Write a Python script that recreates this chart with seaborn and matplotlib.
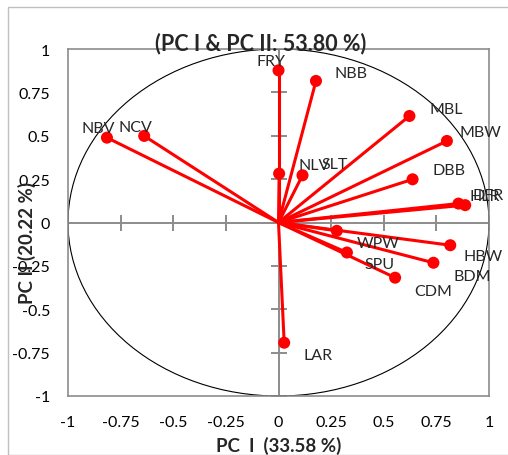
import matplotlib
matplotlib.use('Agg')
import matplotlib.pyplot as plt
import seaborn as sns
import pandas as pd
import numpy as np
from matplotlib.patches import Circle, Rectangle

# loadings
traits = ['FRY', 'NBB', 'MBL', 'MBW', 'NBV', 'NCV', 'NLV', 'SLT', 'DBB',
          'HLR', 'DFR', 'WPW', 'HBW', 'BDM', 'SPU', 'CDM', 'LAR']
pc1 = [0.00, 0.178, 0.622, 0.80, -0.815, -0.638, 0.003, 0.114, 0.637,
       0.855, 0.887, 0.277, 0.816, 0.736, 0.325, 0.554, 0.027]
pc2 = [0.877, 0.816, 0.614, 0.47, 0.489, 0.499, 0.282, 0.272, 0.249,
       0.109, 0.10, -0.048, -0.131, -0.232, -0.173, -0.318, -0.693]
ticks = [-1, -0.75, -0.5, -0.25, 0, 0.25, 0.5, 0.75, 1]
tick_labels = ['-1', '-0.75', '-0.5', '-0.25', '0', '0.25', '0.5', '0.75', '1']

# label offsets in pixels (label placement only)
label_off = {'FRY': (-8, 9), 'NBB': (35, 8), 'MBL': (37, 7), 'MBW': (34, 9),
             'NBV': (-9, 10), 'NCV': (-9, 9), 'NLV': (35, 9), 'SLT': (32, 11),
             'DBB': (36, 9), 'HLR': (26, 8), 'DFR': (23, 10), 'WPW': (41, -12),
             'HBW': (33, -11), 'BDM': (39, -13), 'SPU': (33, -11), 'CDM': (38, -13),
             'LAR': (34, -12)}

df = pd.DataFrame({'trait': traits, 'pc1': pc1, 'pc2': pc2})

sns.set_style('white')
plt.rcParams['font.family'] = ['Lato', 'DejaVu Sans']

fig = plt.figure(figsize=(5.08, 4.56), dpi=100)
fig.patches.append(Rectangle((8 / 508, 0), 1, 1 - 8 / 456, transform=fig.transFigure,
                             fill=False, edgecolor='#bfbfbf', linewidth=1))
ax = fig.add_axes([68 / 508, 1 - 397 / 456, 421 / 508, 347 / 456])

gray = '#8c8c8c'
ax.axhline(0, color=gray, lw=1.4, zorder=1)
ax.axvline(0, color=gray, lw=1.4, zorder=1)
ax.plot(ticks, [0] * len(ticks), ls='none', marker='|', ms=12, mew=1.4, color=gray, zorder=1)
ax.plot([0] * len(ticks), ticks, ls='none', marker='_', ms=12, mew=1.4, color=gray, zorder=1)

ax.add_patch(Circle((0, 0), 1, fill=False, edgecolor='black', lw=0.8, zorder=2))

for _, r in df.iterrows():
    ax.plot([0, r.pc1], [0, r.pc2], color='#ff0000', lw=2.2, zorder=3)
sns.scatterplot(data=df, x='pc1', y='pc2', ax=ax, color='#ff0000', s=75,
                edgecolor='none', zorder=4, legend=False)

for _, r in df.iterrows():
    dx, dy = label_off[r.trait]
    ax.annotate(r.trait, (r.pc1, r.pc2), xytext=(dx, dy), textcoords='offset pixels',
                ha='center', va='center', fontsize=11.5, color='#262626', zorder=5)

ax.set_xlim(-1, 1)
ax.set_ylim(-1, 1)
ax.set_xticks(ticks)
ax.set_xticklabels(tick_labels)
ax.set_yticks(ticks)
ax.set_yticklabels(tick_labels)
ax.tick_params(length=0, labelsize=11.5, labelcolor='black')
ax.tick_params(axis='x', pad=14)
ax.tick_params(axis='y', pad=13)
for s in ax.spines.values():
    s.set_color(gray)
    s.set_linewidth(1.2)
ax.set_xlabel('')
ax.set_ylabel('')

fig.text(279 / 508, 1 - 446 / 456, 'PC  I  (33.58 %)', ha='center', va='center',
         fontsize=13.5, fontweight='bold')
fig.text(27 / 508, 1 - 243 / 456, 'PC II (20.22 %)', ha='center', va='center',
         rotation=90, fontsize=13.5, fontweight='bold')
fig.text(261 / 508, 1 - 44 / 456, '(PC I & PC II: 53.80 %)', ha='center', va='center',
         fontsize=15.5, fontweight='bold')

fig.savefig('out.png', dpi=100)
